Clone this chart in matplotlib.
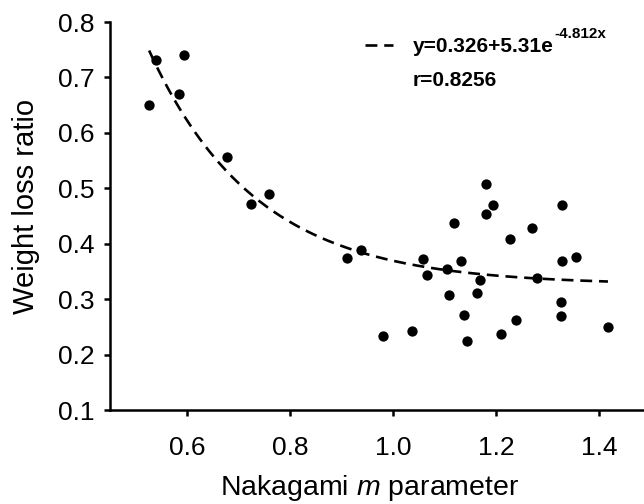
import numpy as np
import matplotlib
matplotlib.use("Agg")
import matplotlib.pyplot as plt

m_param = [0.526, 0.540, 0.594, 0.584, 0.677, 0.723, 0.759,
           0.910, 0.938, 0.981, 1.037, 1.057, 1.066,
           1.181, 1.193, 1.181, 1.328, 1.118, 1.269, 1.226, 1.132, 1.105,
           1.355, 1.328, 1.169, 1.280, 1.108, 1.163, 1.325, 1.137, 1.325,
           1.238, 1.210, 1.144, 1.417]
weight_loss = [0.650, 0.732, 0.741, 0.670, 0.556, 0.471, 0.490,
               0.375, 0.388, 0.234, 0.243, 0.372, 0.344,
               0.508, 0.470, 0.454, 0.470, 0.438, 0.429, 0.408, 0.368, 0.355,
               0.376, 0.368, 0.334, 0.338, 0.307, 0.311, 0.295, 0.272, 0.270,
               0.262, 0.237, 0.225, 0.250]
fit_a, fit_b, fit_c = 0.326, 5.31, -4.812
x_ticks = [0.6, 0.8, 1.0, 1.2, 1.4]
y_ticks = [0.1, 0.2, 0.3, 0.4, 0.5, 0.6, 0.7, 0.8]

plt.rcParams['font.family'] = ['Liberation Sans', 'DejaVu Sans']
plt.rcParams['mathtext.fontset'] = 'custom'
plt.rcParams['mathtext.it'] = 'Liberation Sans:italic'
plt.rcParams['mathtext.rm'] = 'Liberation Sans'

W, H = 644, 504
fig = plt.figure(figsize=(W/100, H/100), dpi=100)
ax = fig.add_axes([110/W, 94/H, 1 - 110/W, (410-22)/H])

ax.scatter(m_param, weight_loss, s=55, color='black', zorder=3, linewidths=0)
xf = np.linspace(min(m_param), max(m_param), 200)
yf = fit_a + fit_b * np.exp(fit_c * xf)
ax.plot(xf, yf, color='black', lw=1.9, dashes=(4.5, 2.6))

ax.set_xlim(0.45, 1.487)
ax.set_ylim(0.1, 0.8)
ax.set_xticks(x_ticks)
ax.set_xticklabels([f"{v:.1f}" for v in x_ticks])
ax.set_yticks(y_ticks)
ax.set_yticklabels([f"{v:.1f}" for v in y_ticks])
for s in ['top', 'right']:
    ax.spines[s].set_visible(False)
for s in ['left', 'bottom']:
    ax.spines[s].set_linewidth(1.8)
ax.tick_params(axis='both', direction='out', length=4, width=1.8, labelsize=19)
ax.tick_params(axis='y', pad=7)
ax.tick_params(axis='x', pad=15)

ax.set_xlabel("Nakagami $\\mathit{m}$ parameter", fontsize=20.5)
ax.xaxis.set_label_coords((370-110)/534, (410-488)/388)
ax.xaxis.label.set_va('center')
ax.set_ylabel("Weight loss ratio", fontsize=21)
ax.yaxis.set_label_coords((26-110)/534, (410-206)/388)
ax.yaxis.label.set_va('center')

# legend-like annotation (dashed sample line + equation)
fig.add_artist(plt.Line2D([365/W, 393/W], [1 - 45/H, 1 - 45/H], color='black', lw=1.9, dashes=(4.5, 2.6)))
t = fig.text(413/W, 1 - 46/H, "y=0.326+5.31e", fontsize=15, fontweight='bold', va='center', ha='left')
fig.canvas.draw()
bb = t.get_window_extent()
fig.text(bb.x1/W + 0.001, 1 - 34/H, "-4.812x", fontsize=11, fontweight='bold', va='center', ha='left')
fig.text(413/W, 1 - 80/H, "r=0.8256", fontsize=15, fontweight='bold', va='center', ha='left')

fig.savefig("out.png", dpi=100)
